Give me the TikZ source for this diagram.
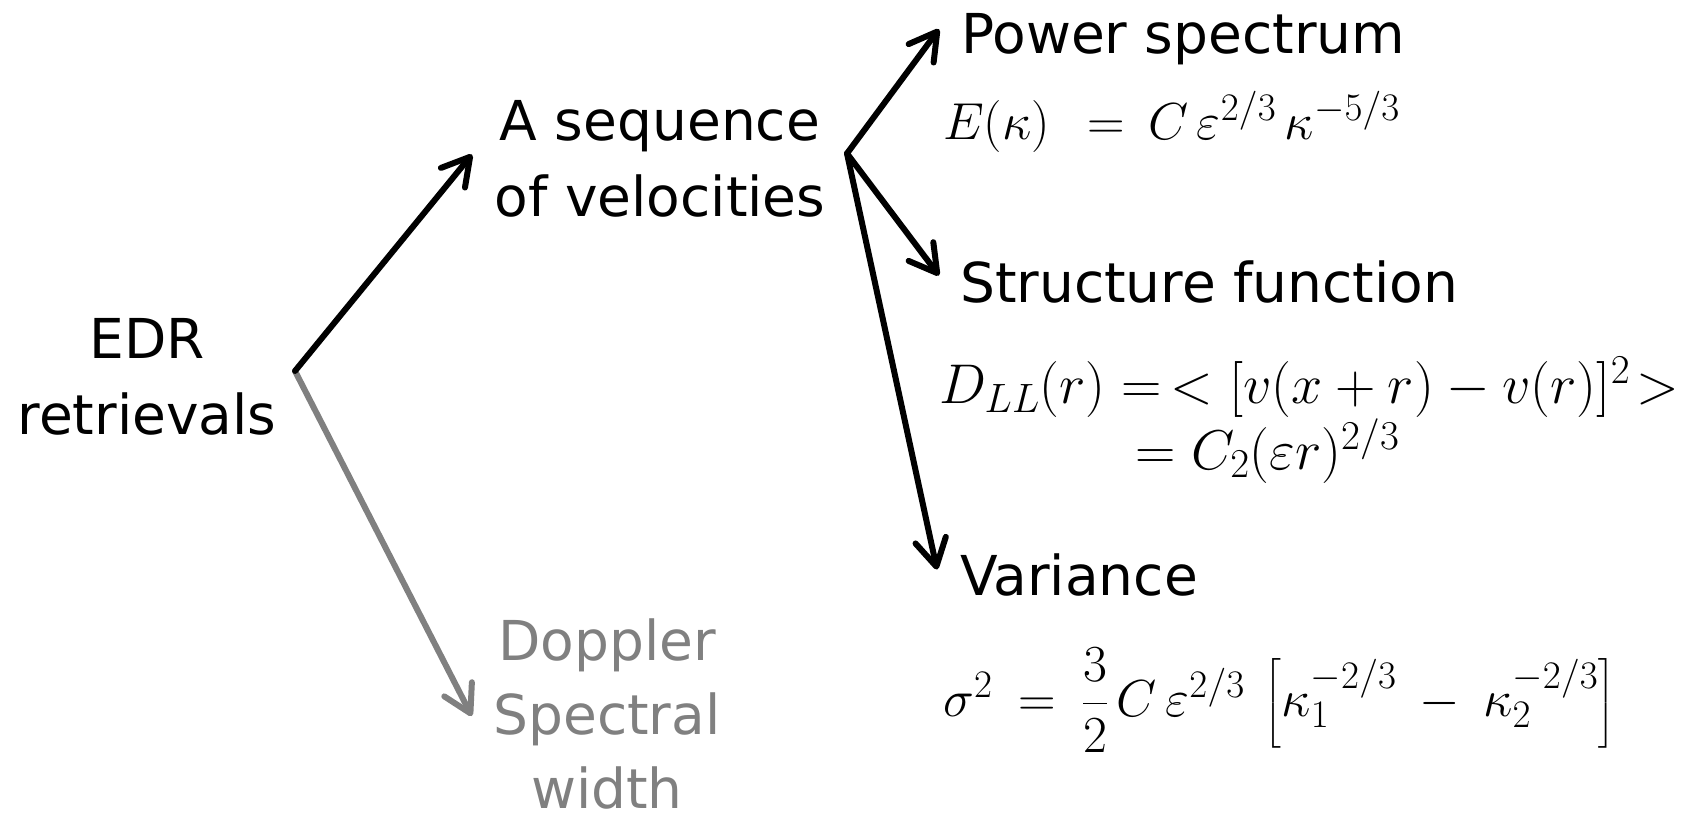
\documentclass[tikz,border=0pt]{standalone}
\usepackage{fix-cm}
\usepackage{amsmath}
\usepackage[no-math]{fontspec}
\setmainfont{DejaVu Sans}
\usetikzlibrary{arrows.meta,calc}
\DeclareMathSizes{52}{52}{39}{30}
\DeclareMathSizes{56}{56}{41}{32}
\definecolor{midgray}{RGB}{128,128,128}
\tikzset{
  lbl/.style={inner sep=0pt, font=\fontsize{55}{74}\selectfont, text=black},
  eqn/.style={inner sep=0pt, font=\fontsize{52}{60}\selectfont},
  arr/.style={line width=6pt, line cap=round,
    -{Straight Barb[length=27pt,width=31pt,line cap=round,line join=round]}},
  grayarr/.style={arr, draw=midgray},
}
\begin{document}
\begin{tikzpicture}[x=1pt,y=-1pt]
\useasboundingbox (0,0) rectangle (1708,816);
% labels
\node[lbl, align=center, font=\fontsize{55}{76}\selectfont] (edr) at (147,377) {EDR\\retrievals};
\node[lbl, align=center, font=\fontsize{55}{76}\selectfont] (seq) at (660,158.5) {A sequence\\of velocities};
\node[lbl, align=center, text=midgray] (doppler) at (607,714) {Doppler\\Spectral\\width};
\node[lbl, anchor=base west] (power) at (961,54) {Power spectrum};
\node[lbl, anchor=base west] (struct) at (960,302) {Structure function};
\node[lbl, anchor=base west] (variance) at (960,595) {Variance};
% equations
\node[eqn, anchor=base west] (eqpow) at (943,139)
  {$E(\kappa)\;\,=\,C\,\varepsilon^{2/3}\,\kappa^{-5/3}$};
\node[eqn, anchor=west, align=left, font=\fontsize{56}{62}\selectfont] (eqstruct) at (939,420)
  {$D_{LL}(r)=\,<[v(x+r)-v(r)]^2\!>$\\\hspace*{196pt}$=C_2(\varepsilon r)^{2/3}$};
\node[eqn, anchor=west] (eqvar) at (943,700)
  {$\sigma^2\:=\:\dfrac{3}{2}\,C\,\varepsilon^{2/3}\:\left[\kappa_1^{-2/3}\:-\:\kappa_2^{-2/3}\right]$};
% forks
\coordinate (fork1) at (295,371);
\coordinate (fork2) at (847,153.5);
% connectors
\draw[grayarr] (fork1) -- ([shift={(-21.5,2)}]doppler.west);
\draw[arr] (fork1) -- ([shift={(-22.5,-4)}]seq.west);
\draw[arr] (fork2) -- ([shift={(-22,-10.5)}]power.west);
\draw[arr] (fork2) -- ([shift={(-21,-6)}]struct.west);
\draw[arr] (fork2) -- ([shift={(-23,-5)}]variance.west);
\end{tikzpicture}
\end{document}
